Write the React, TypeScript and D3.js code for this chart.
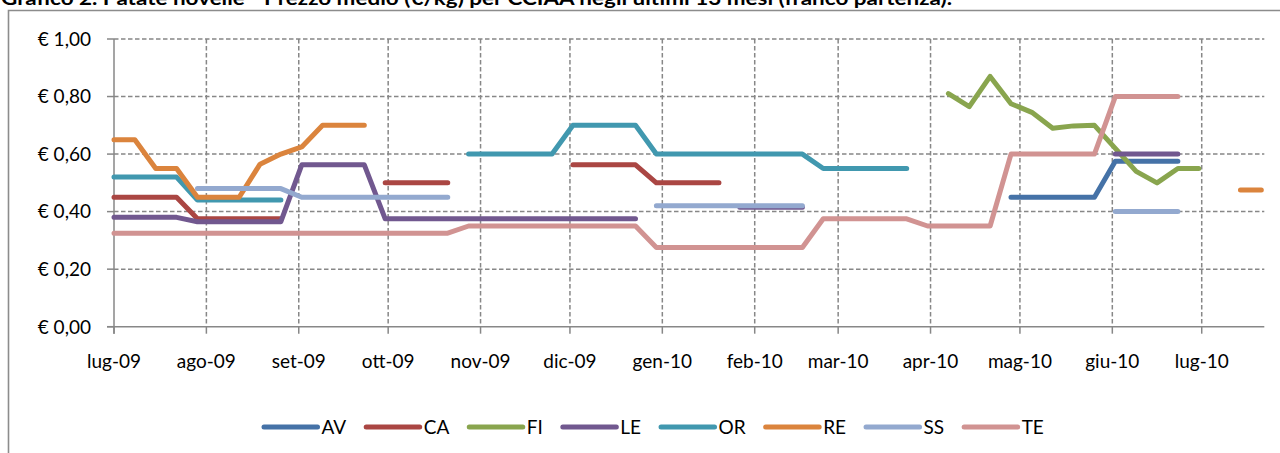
import React from "react";
import * as d3 from "d3";

const W = 1280;
const H = 453;
const _ = null;

const TITLE = "Grafico 2. Patate novelle - Prezzo medio (€/kg) per CCIAA negli ultimi 13 mesi (franco partenza).";
const startDate = new Date(2009, 6, 1);
const endDate = new Date(2010, 6, 22);
const WEEK_COUNT = 56;

const monthLabels = [
  "lug-09", "ago-09", "set-09", "ott-09", "nov-09", "dic-09", "gen-10",
  "feb-10", "mar-10", "apr-10", "mag-10", "giu-10", "lug-10",
];
const yTicks = [0, 0.2, 0.4, 0.6, 0.8, 1.0];

const seriesNames = ["AV", "CA", "FI", "LE", "OR", "RE", "SS", "TE"];
const seriesColors = ["#4572A7", "#AA4643", "#89A54E", "#71588F", "#4198AF", "#DB843D", "#93A9CF", "#D19392"];

const AV = [
  _, _, _, _, _, _, _, _, _, _,
  _, _, _, _, _, _, _, _, _, _,
  _, _, _, _, _, _, _, _, _, _,
  _, _, _, _, _, _, _, _, _, _,
  _, _, _, 0.45, 0.45, 0.45, 0.45, 0.45, 0.575, 0.575,
  0.575, 0.575, _, _, _, _,
];
const CA = [
  0.45, 0.45, 0.45, 0.45, 0.375, 0.375, 0.375, 0.375, 0.375, _,
  _, _, _, 0.5, 0.5, 0.5, 0.5, _, _, _,
  _, _, 0.5625, 0.5625, 0.5625, 0.5625, 0.5, 0.5, 0.5, 0.5,
  _, _, _, _, _, _, _, _, _, _,
  _, _, _, _, _, _, _, _, _, _,
  _, _, _, _, _, _,
];
const FI = [
  _, _, _, _, _, _, _, _, _, _,
  _, _, _, _, _, _, _, _, _, _,
  _, _, _, _, _, _, _, _, _, _,
  _, _, _, _, _, _, _, _, _, _,
  0.81, 0.765, 0.87, 0.775, 0.745, 0.69, 0.698, 0.7, 0.62, 0.54,
  0.5, 0.55, 0.55, _, _, _,
];
const LE = [
  0.38, 0.38, 0.38, 0.38, 0.365, 0.365, 0.365, 0.365, 0.365, 0.5625,
  0.5625, 0.5625, 0.5625, 0.375, 0.375, 0.375, 0.375, 0.375, 0.375, 0.375,
  0.375, 0.375, 0.375, 0.375, 0.375, 0.375, _, _, _, _,
  0.415, 0.415, 0.415, 0.415, _, _, _, _, _, _,
  _, _, _, _, _, _, _, _, 0.6, 0.6,
  0.6, 0.6, _, _, _, _,
];
const OR = [
  0.52, 0.52, 0.52, 0.52, 0.44, 0.44, 0.44, 0.44, 0.44, _,
  _, _, _, _, _, _, _, 0.6, 0.6, 0.6,
  0.6, 0.6, 0.7, 0.7, 0.7, 0.7, 0.6, 0.6, 0.6, 0.6,
  0.6, 0.6, 0.6, 0.6, 0.55, 0.55, 0.55, 0.55, 0.55, _,
  _, _, _, _, _, _, _, _, _, _,
  _, _, _, _, _, _,
];
const RE = [
  0.65, 0.65, 0.55, 0.55, 0.45, 0.45, 0.45, 0.565, 0.6, 0.625,
  0.7, 0.7, 0.7, _, _, _, _, _, _, _,
  _, _, _, _, _, _, _, _, _, _,
  _, _, _, _, _, _, _, _, _, _,
  _, _, _, _, _, _, _, _, _, _,
  _, _, _, _, 0.475, 0.475,
];
const SS = [
  _, _, _, _, 0.48, 0.48, 0.48, 0.48, 0.48, 0.45,
  0.45, 0.45, 0.45, 0.45, 0.45, 0.45, 0.45, _, _, _,
  _, _, _, _, _, _, 0.42, 0.42, 0.42, 0.42,
  0.42, 0.42, 0.42, 0.42, _, _, _, _, _, _,
  _, _, _, _, _, _, _, _, 0.4, 0.4,
  0.4, 0.4, _, _, _, _,
];
const TE = [
  0.325, 0.325, 0.325, 0.325, 0.325, 0.325, 0.325, 0.325, 0.325, 0.325,
  0.325, 0.325, 0.325, 0.325, 0.325, 0.325, 0.325, 0.35, 0.35, 0.35,
  0.35, 0.35, 0.35, 0.35, 0.35, 0.35, 0.275, 0.275, 0.275, 0.275,
  0.275, 0.275, 0.275, 0.275, 0.375, 0.375, 0.375, 0.375, 0.375, 0.35,
  0.35, 0.35, 0.35, 0.6, 0.6, 0.6, 0.6, 0.6, 0.8, 0.8,
  0.8, 0.8, _, _, _, _,
];

const seriesValues = [AV, CA, FI, LE, OR, RE, SS, TE];

const FONT = "Lato, 'Open Sans', 'DejaVu Sans', sans-serif";
const GRID = "#878787";

function measure(text: string, size: number): number {
  const c = document.createElement("canvas").getContext("2d");
  if (!c) return text.length * size * 0.55;
  c.font = `${size}px Lato`;
  return c.measureText(text).width;
}

export default function App() {
  const weeks = d3.range(WEEK_COUNT).map((i) => d3.timeDay.offset(startDate, 7 * i));
  const x = d3.scaleTime().domain([startDate, endDate]).range([114, 1264.3]);
  const y = d3.scaleLinear().domain([0, 1]).range([326.7, 39]);
  const monthTicks = d3.timeMonth.range(startDate, d3.timeDay.offset(endDate, 1));
  const fmt = (v: number) => "€ " + d3.format(".2f")(v).replace(".", ",");

  const line = d3
    .line<number | null>()
    .defined((d) => d != null)
    .x((_d, i) => x(weeks[i]))
    .y((d) => y(d as number));

  const x0 = x.range()[0];
  const x1 = x.range()[1];
  const yBottom = y(0);

  // legend layout
  const legendSize = 19;
  const lineLen = 53.5;
  const lineGap = 4;
  const itemGap = 20;
  let lx = 264;
  const legendItems = seriesNames.map((n, i) => {
    const item = { name: n, color: seriesColors[i], x: lx };
    lx += lineLen + lineGap + measure(n, legendSize) + itemGap;
    return item;
  });
  const legendY = 427;

  return (
    <svg
      width={W}
      height={H}
      style={{ position: "absolute", left: 0, top: 0, background: "#fff" }}
      fontFamily={FONT}
    >
      <rect x={0} y={0} width={W} height={H} fill="#fff" />
      <text x={1} y={5} fontSize={19} fontWeight="bold" fill="#000" textLength={951} lengthAdjust="spacingAndGlyphs">
        {TITLE}
      </text>
      {/* chart frame */}
      <path d={`M8.5,${H + 2}V10.5H${W + 2}`} fill="none" stroke="#8c8c8c" strokeWidth={1.6} />

      {/* horizontal gridlines */}
      {yTicks.map((t) => (
        <g key={"y" + t}>
          {t > 0 && (
            <line x1={x0} x2={x1} y1={y(t)} y2={y(t)} stroke={GRID} strokeWidth={1.5} strokeDasharray="4.5,2.5" />
          )}
          <line x1={107} x2={x0} y1={y(t)} y2={y(t)} stroke={GRID} strokeWidth={1.5} />
          <text x={91} y={y(t)} dy="0.36em" textAnchor="end" fontSize={19} fill="#000">
            {fmt(t)}
          </text>
        </g>
      ))}
      {/* vertical gridlines and x ticks */}
      {monthTicks.map((d, i) => (
        <g key={"x" + i}>
          {i > 0 && (
            <line x1={x(d)} x2={x(d)} y1={y(1)} y2={yBottom} stroke={GRID} strokeWidth={1.5} strokeDasharray="4.5,2.5" />
          )}
          <line x1={x(d)} x2={x(d)} y1={yBottom} y2={yBottom + 7} stroke={GRID} strokeWidth={1.5} />
          <text x={x(d)} y={368} textAnchor="middle" fontSize={19} fill="#000">
            {monthLabels[i]}
          </text>
        </g>
      ))}
      {/* axes */}
      <line x1={x0} x2={x0} y1={y(1)} y2={yBottom + 7} stroke={GRID} strokeWidth={1.5} />
      <line x1={107} x2={x1} y1={yBottom} y2={yBottom} stroke={GRID} strokeWidth={1.5} />

      {/* series */}
      {seriesValues.map((vals, i) => (
        <path
          key={seriesNames[i]}
          d={line(vals) || ""}
          fill="none"
          stroke={seriesColors[i]}
          strokeWidth={5}
          strokeLinecap="round"
          strokeLinejoin="round"
        />
      ))}

      {/* legend */}
      {legendItems.map((it) => (
        <g key={"lg" + it.name}>
          <line
            x1={it.x}
            x2={it.x + lineLen}
            y1={legendY}
            y2={legendY}
            stroke={it.color}
            strokeWidth={5}
            strokeLinecap="round"
          />
          <text x={it.x + lineLen + lineGap} y={legendY} dy="0.36em" fontSize={legendSize} fill="#000">
            {it.name}
          </text>
        </g>
      ))}
    </svg>
  );
}
